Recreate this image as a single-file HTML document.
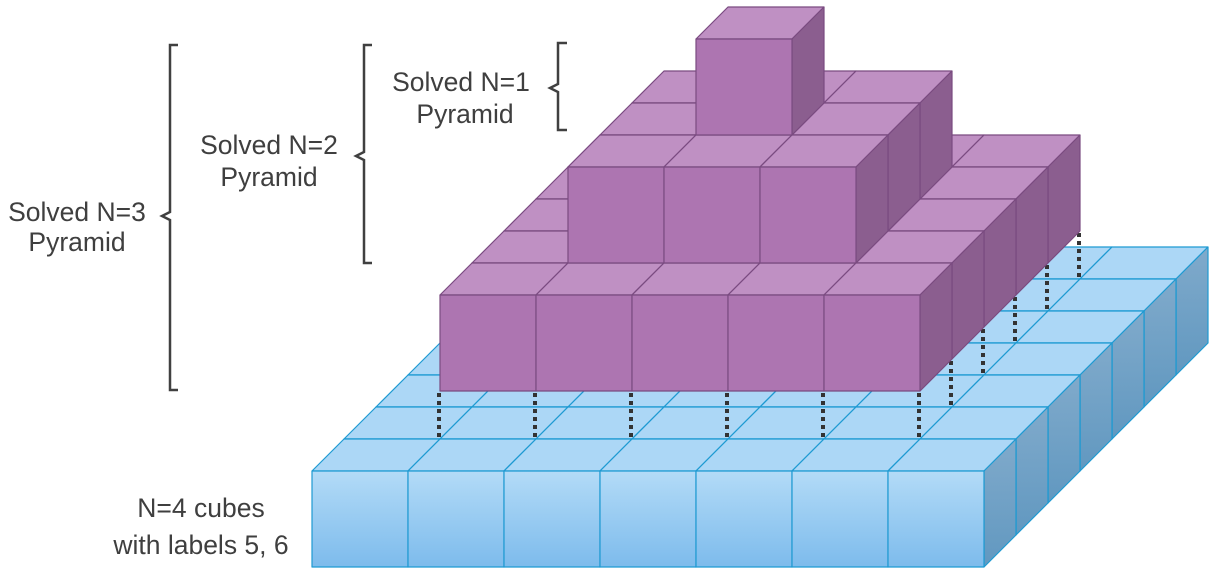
<!DOCTYPE html>
<html><head><meta charset="utf-8"><style>
html,body{margin:0;padding:0;background:#fff;width:1215px;height:575px;overflow:hidden}
text{font-family:"Liberation Sans",sans-serif;font-size:26.5px;fill:#3f3f3f}
</style></head><body>
<svg id="chart" width="1215" height="575" viewBox="0 0 1215 575">
<defs>
<linearGradient id="bf" x1="0" y1="0" x2="0" y2="1"><stop offset="0" stop-color="#b3dbf7"/><stop offset="1" stop-color="#7dbbec"/></linearGradient>
<linearGradient id="bs" x1="0" y1="0" x2="0" y2="1"><stop offset="0" stop-color="#80aacb"/><stop offset="1" stop-color="#6198c0"/></linearGradient>
</defs>
<g id="base"></g>
<g id="dots"></g>
<g id="pyr"></g>
<g><path d="M178,45 L170,45 L170,212 L162,216 L170,220 L170,390 L178,390" fill="none" stroke="#404040" stroke-width="2.5"/></g>
<g><path d="M372,45 L364,45 L364,152 L356,156 L364,160 L364,263 L372,263" fill="none" stroke="#404040" stroke-width="2.5"/></g>
<g><path d="M567,43 L558,43 L558,84 L550,88 L558,92 L558,130 L567,130" fill="none" stroke="#404040" stroke-width="2.5"/></g>
<text x="77" y="221" text-anchor="middle">Solved N=3</text>
<text x="77" y="251" text-anchor="middle">Pyramid</text>
<text x="269" y="154" text-anchor="middle">Solved N=2</text>
<text x="269" y="186" text-anchor="middle">Pyramid</text>
<text x="461" y="91" text-anchor="middle">Solved N=1</text>
<text x="465" y="123" text-anchor="middle">Pyramid</text>
<text x="201" y="517" text-anchor="middle">N=4 cubes</text>
<text x="201" y="554" text-anchor="middle">with labels 5, 6</text>
</svg>
<script>
// layers: [size, originX (front-left bottom), originY (front bottom), kind]
const layerSizes = [7, 5, 3, 1];
const layerX = [312, 440, 568, 696];
const layerY = [567, 391, 263, 135];
const layerKind = ['blue', 'purple', 'purple', 'purple'];
const S = 96, D = 32;
const NS = 'http://www.w3.org/2000/svg';
const colors = {
  blue: {front: 'url(#bf)', top: '#acd7f6', side: 'url(#bs)', stroke: '#1e9ad2'},
  purple: {front: '#ad75b1', top: '#bf90c3', side: '#8b5e8f', stroke: '#7a4b80'}
};
function poly(g, pts, fill, stroke, name) {
  const p = document.createElementNS(NS, 'polygon');
  p.setAttribute('points', pts.map(q => q.join(',')).join(' '));
  p.setAttribute('fill', fill);
  p.setAttribute('stroke', stroke);
  p.setAttribute('stroke-width', '1.2');
  p.setAttribute('stroke-linejoin', 'round');
  
  
  g.appendChild(p);
}
function cube(g, x, yb, c) {
  const y = yb - S;
  poly(g, [[x, y], [x + S, y], [x + S + D, y - D], [x + D, y - D]], c.top, c.stroke, 'cube-top');
  poly(g, [[x + S, y], [x + S + D, y - D], [x + S + D, yb - D], [x + S, yb]], c.side, c.stroke, 'cube-side');
  poly(g, [[x, y], [x + S, y], [x + S, yb], [x, yb]], c.front, c.stroke, 'cube-front');
}
layerSizes.forEach((n, li) => {
  const g = document.getElementById(li === 0 ? 'base' : 'pyr');
  const c = colors[layerKind[li]];
  for (let d = n - 1; d >= 0; d--)
    for (let col = 0; col < n; col++)
      cube(g, layerX[li] + col * S + d * D, layerY[li] - d * D, c);
});
const dg = document.getElementById('dots');
const n1 = layerSizes[1], gap = 47;
const pts = [];
for (let col = 0; col <= n1; col++) pts.push([layerX[1] + col * S, layerY[1]]);
for (let d = 1; d <= n1; d++) pts.push([layerX[1] + n1 * S + d * D, layerY[1] - d * D]);
pts.forEach(p => {
  const l = document.createElementNS(NS, 'line');
  l.setAttribute('x1', p[0] - 1); l.setAttribute('x2', p[0] - 1);
  l.setAttribute('y1', p[1] + 2); l.setAttribute('y2', p[1] + gap);
  l.setAttribute('stroke', '#333');
  l.setAttribute('stroke-width', '4');
  l.setAttribute('stroke-dasharray', '4 4');
  
  
  dg.appendChild(l);
});
</script>
</body></html>
